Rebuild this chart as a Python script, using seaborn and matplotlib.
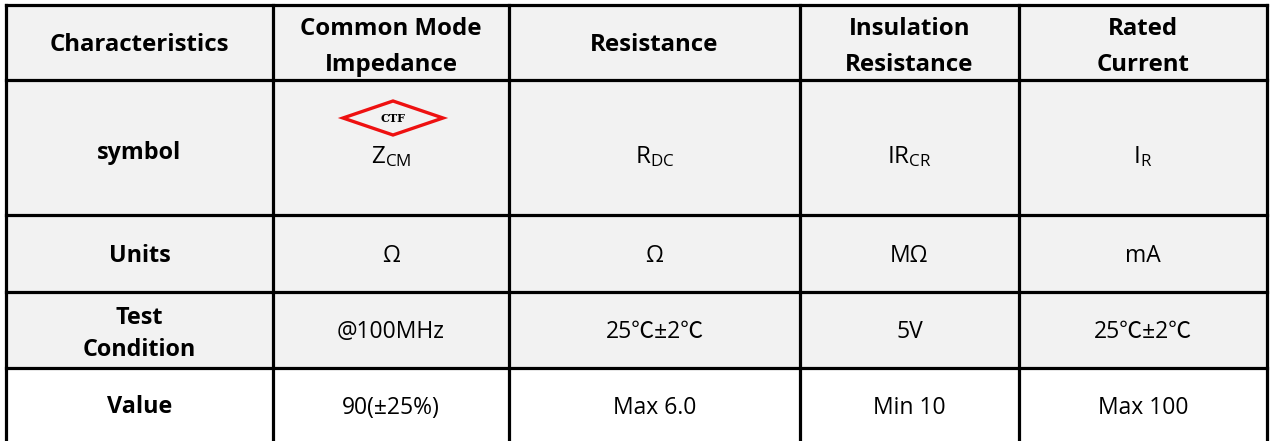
import matplotlib
matplotlib.use("Agg")
import matplotlib.pyplot as plt
import seaborn as sns
from matplotlib.patches import Rectangle, Polygon

# table content
header = ["Characteristics", "Common Mode\nImpedance", "Resistance",
          "Insulation\nResistance", "Rated\nCurrent"]
row_labels = ["symbol", "Units", "Test\nCondition", "Value"]
symbols = [("Z", "CM"), ("R", "DC"), ("IR", "CR"), ("I", "R")]
units = ["Ω", "Ω", "MΩ", "mA"]
conditions = ["@100MHz", "25℃±2℃", "5V", "25℃±2℃"]
values = ["90(±25%)", "Max 6.0", "Min 10", "Max 100"]

# layout in pixels
col_edges = [6, 273, 509, 800, 1019, 1267]
row_edges = [5, 80, 215, 292, 368, 445]
row_fill = ["#f2f2f2", "#f2f2f2", "#f2f2f2", "#f2f2f2", "#ffffff"]

sns.set_theme(style="white")
plt.rcParams['font.family'] = ['Open Sans', 'Noto Sans CJK KR', 'DejaVu Sans']
plt.rcParams['text.color'] = 'black'

fig = plt.figure(figsize=(12.73, 4.41), dpi=100)
ax = fig.add_axes([0, 0, 1, 1])
ax.set_xlim(0, 1273)
ax.set_ylim(441, 0)
ax.axis("off")

# cell backgrounds
for r in range(5):
    ax.add_patch(Rectangle((col_edges[0], row_edges[r]),
                           col_edges[-1] - col_edges[0],
                           row_edges[r + 1] - row_edges[r],
                           facecolor=row_fill[r], edgecolor="none", zorder=0))

# grid lines
lw = 2.3
for x in col_edges:
    ax.plot([x, x], [row_edges[0], 441], color="black", lw=lw, zorder=3,
            solid_capstyle="projecting")
for y in row_edges[:-1]:
    ax.plot([col_edges[0], col_edges[-1]], [y, y], color="black", lw=lw,
            zorder=3, solid_capstyle="projecting")

cx = [(col_edges[i] + col_edges[i + 1]) / 2 for i in range(5)]
body_fs = 16.5
head_fs = 17.3

# header
for i, h in enumerate(header):
    y = 47 if "\n" in h else 45
    ax.text(cx[i], y, h, ha="center", va="center", fontsize=head_fs,
            fontweight="bold", linespacing=1.65)

# first column labels
label_y = [153, 256, 334, 407]
for y, lab in zip(label_y, row_labels):
    ax.text(cx[0], y, lab, ha="center", va="center", fontsize=head_fs - 0.5,
            fontweight="bold", linespacing=1.45)

# symbol row
for i, (main, sub) in enumerate(symbols):
    ax.text(cx[i + 1], 157, r"$\mathregular{%s_{%s}}$" % (main, sub),
            ha="center", va="center", fontsize=body_fs + 1)

# CTF logo
lx, ly = cx[1] + 2, 118
ax.add_patch(Polygon([(lx - 50, ly), (lx, ly - 17), (lx + 50, ly), (lx, ly + 17)],
                     closed=True, fill=False, edgecolor="#ee1111", lw=2.4, zorder=4))
ax.text(lx, ly + 1, "CTF", ha="center", va="center", fontsize=8,
        fontweight="bold", family="DejaVu Serif")

for i in range(4):
    ax.text(cx[i + 1], 256, units[i], ha="center", va="center", fontsize=body_fs)
    ax.text(cx[i + 1], 332, conditions[i], ha="center", va="center", fontsize=body_fs)
    ax.text(cx[i + 1], 408, values[i], ha="center", va="center", fontsize=body_fs)

fig.savefig("out.png", dpi=100, facecolor="white")
